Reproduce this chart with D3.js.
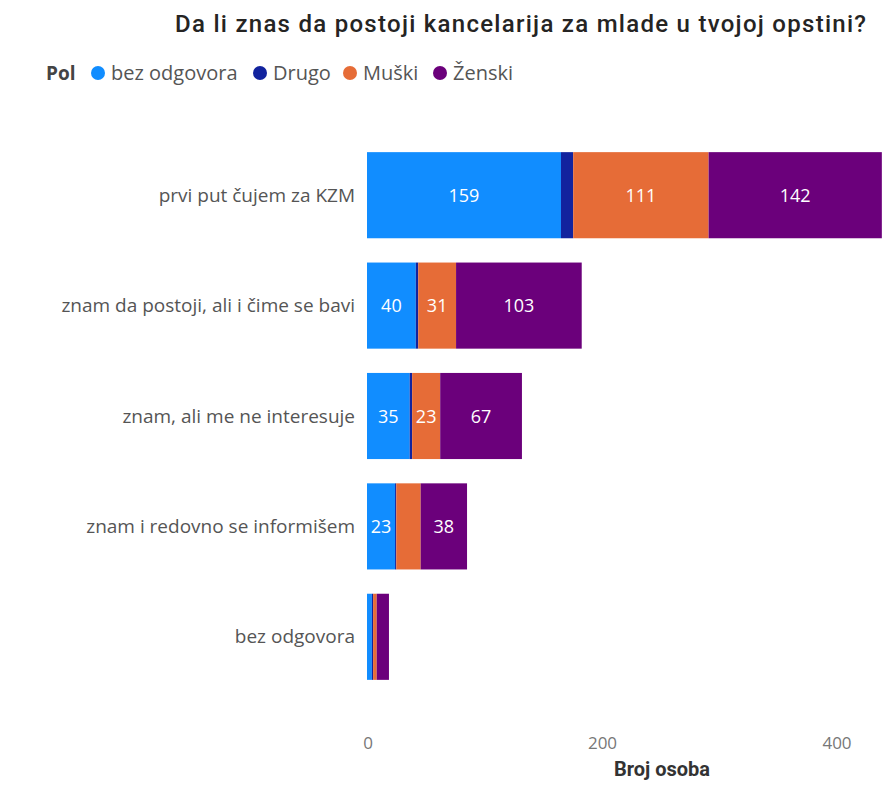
<!DOCTYPE html>
<html>
<head>
<meta charset="utf-8">
<script src="https://cdn.jsdelivr.net/npm/d3@7"></script>
<style>
  body { margin: 0; background: #fff; }
  text { font-family: "Open Sans", "Noto Sans", sans-serif; }
  .din { font-family: Roboto, "Noto Sans", sans-serif; }
</style>
</head>
<body>
<div id="chart"></div>
<script>
// data
var categories = ["prvi put čujem za KZM", "znam da postoji, ali i čime se bavi",
  "znam, ali me ne interesuje", "znam i redovno se informišem", "bez odgovora"];
var seriesNames = ["bez odgovora", "Drugo", "Muški", "Ženski"];
var bezOdgovora = [159, 40, 35, 23, 4];
var drugo = [10, 2, 2, 1, 1];
var muski = [111, 31, 23, 20, 3];
var zenski = [142, 103, 67, 38, 10];
var xTicks = [0, 200, 400];

var colors = ["#118DFF", "#12239E", "#E66C37", "#6B007B"];

var svgWidth = 883, svgHeight = 787;

var svg = d3.select("#chart").append("svg")
  .attr("width", svgWidth)
  .attr("height", svgHeight);

// build rows for the stack
var rows = categories.map(function(c, i) {
  return {cat: c, "bez odgovora": bezOdgovora[i], "Drugo": drugo[i], "Muški": muski[i], "Ženski": zenski[i]};
});
var stacked = d3.stack().keys(seriesNames)(rows);

var x = d3.scaleLinear().domain([0, 400]).range([367, 855]);
// tick labels sit a bit left of the bar scale in the original
var xLabel = d3.scaleLinear().domain([0, 400]).range([368, 837]);
var y = d3.scaleBand().domain(categories).range([140, 692]).paddingInner(0.22).paddingOuter(0.11);

// title
svg.append("text")
  .attr("class", "din")
  .attr("x", 175).attr("y", 32)
  .attr("textLength", 691).attr("lengthAdjust", "spacing")
  .attr("font-size", 24).attr("font-weight", 500)
  .attr("fill", "#252423")
  .text("Da li znas da postoji kancelarija za mlade u tvojoj opstini?");

// legend
var legend = svg.append("g").attr("class", "din");
legend.append("text").attr("x", 46).attr("y", 80)
  .attr("font-size", 19).attr("font-weight", 700).attr("fill", "#444")
  .text("Pol");
var legX = [98, 260, 350, 440];
seriesNames.forEach(function(s, i) {
  legend.append("circle").attr("cx", legX[i]).attr("cy", 73).attr("r", 7).attr("fill", colors[i]);
  legend.append("text").attr("x", legX[i] + 13).attr("y", 80)
    .attr("font-size", 20).attr("fill", "#555").text(s);
});

// bars
var groups = svg.selectAll("g.series").data(stacked).enter().append("g")
  .attr("class", "series")
  .attr("fill", function(d, i) { return colors[i]; });

groups.selectAll("rect").data(function(d) { return d; }).enter().append("rect")
  .attr("x", function(d) { return x(d[0]); })
  .attr("y", function(d) { return y(d.data.cat); })
  .attr("width", function(d) { return x(d[1]) - x(d[0]); })
  .attr("height", y.bandwidth());

// data labels where they fit
groups.selectAll("text").data(function(d) { return d; }).enter()
  .filter(function(d) { return x(d[1]) - x(d[0]) >= 26; })
  .append("text")
  .attr("x", function(d) { return (x(d[0]) + x(d[1])) / 2; })
  .attr("y", function(d) { return y(d.data.cat) + y.bandwidth() / 2 + 6.5; })
  .attr("text-anchor", "middle")
  .attr("font-size", 18).attr("fill", "#fff")
  .text(function(d) { return d[1] - d[0]; });

// category labels
svg.append("g").selectAll("text").data(categories).enter().append("text")
  .attr("x", 355)
  .attr("y", function(d) { return y(d) + y.bandwidth() / 2 + 6.5; })
  .attr("text-anchor", "end")
  .attr("font-size", 19).attr("fill", "#555")
  .text(function(d) { return d; });

// x axis labels
svg.append("g").selectAll("text").data(xTicks).enter().append("text")
  .attr("x", function(d) { return xLabel(d); })
  .attr("y", 749)
  .attr("text-anchor", "middle")
  .attr("font-size", 17).attr("fill", "#777")
  .text(function(d) { return d; });

svg.append("text")
  .attr("class", "din")
  .attr("x", 662).attr("y", 776)
  .attr("text-anchor", "middle")
  .attr("font-size", 20).attr("font-weight", 700).attr("fill", "#333")
  .text("Broj osoba");
</script>
</body>
</html>
